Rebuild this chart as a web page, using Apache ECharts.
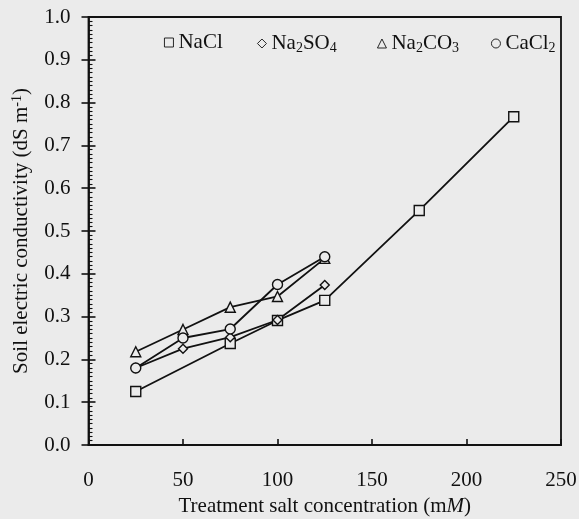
<!DOCTYPE html>
<html>
<head>
<meta charset="utf-8">
<script src="https://cdn.jsdelivr.net/npm/echarts@6/dist/echarts.min.js"></script>
<style>
html,body{margin:0;padding:0;background:#ebebeb;}
#c{width:579px;height:519px;}
</style>
</head>
<body>
<div id="c"></div>
<script>
// Data
const xTicks = [0, 50, 100, 150, 200, 250];
const yTicks = [0.0, 0.1, 0.2, 0.3, 0.4, 0.5, 0.6, 0.7, 0.8, 0.9, 1.0];

const naclX = [25, 75, 100, 125, 175, 225];
const naclY = [0.125, 0.237, 0.291, 0.338, 0.548, 0.767];

const na2so4X = [25, 50, 75, 100, 125];
const na2so4Y = [0.18, 0.225, 0.252, 0.292, 0.374];

const na2co3X = [25, 50, 75, 100, 125];
const na2co3Y = [0.218, 0.27, 0.322, 0.347, 0.436];

const cacl2X = [25, 50, 75, 100, 125];
const cacl2Y = [0.18, 0.25, 0.271, 0.375, 0.44];

const seriesNames = ['NaCl', 'Na2SO4', 'Na2CO3', 'CaCl2'];
const legendLabels = {
  'NaCl': '{n|NaCl}',
  'Na2SO4': '{n|Na}{s|2}{n|SO}{s|4}',
  'Na2CO3': '{n|Na}{s|2}{n|CO}{s|3}',
  'CaCl2': '{n|CaCl}{s|2}'
};

function pairs(xs, ys) { return xs.map((x, i) => [x, ys[i]]); }

const FONT = "'Liberation Serif', 'Times New Roman', serif";
const INK = '#111111';
const BG = '#ebebeb';
const FS = 21;

const richText = {
  n: { fontSize: FS, fontFamily: FONT, color: INK },
  s: { fontSize: 14, fontFamily: FONT, color: INK, lineHeight: 14, padding: [9, 0, 0, 0] },
  sup: { fontSize: 14, fontFamily: FONT, color: INK, lineHeight: 14, padding: [0, 0, 9, 0] },
  i: { fontSize: FS, fontFamily: FONT, color: INK, fontStyle: 'italic' }
};

function mkSeries(name, xs, ys, symbol, size) {
  return {
    name: name,
    type: 'line',
    data: pairs(xs, ys),
    symbol: symbol,
    symbolSize: size,
    showAllSymbol: true,
    lineStyle: { color: INK, width: 1.8 },
    itemStyle: { color: BG, borderColor: INK, borderWidth: 1.4 },
    emphasis: { disabled: true },
    animation: false
  };
}

function mkLegend(name, icon, left) {
  return {
    data: [{ name: name, icon: icon }],
    left: left,
    top: 27,
    itemWidth: 9,
    itemHeight: 9,
    selectedMode: false,
    itemStyle: { color: BG, borderColor: INK, borderWidth: 0.9 },
    formatter: n => legendLabels[n],
    textStyle: { rich: richText, fontFamily: FONT, fontSize: FS, color: INK }
  };
}

const chart = echarts.init(document.getElementById('c'), null, { renderer: 'canvas' });
chart.setOption({
  backgroundColor: BG,
  animation: false,
  grid: {
    left: 88.5, right: 18, top: 17, bottom: 74,
    containLabel: false,
    outerBoundsMode: 'none',
    show: true, borderColor: INK, borderWidth: 1.8, backgroundColor: 'transparent'
  },
  legend: [
    mkLegend('NaCl', 'rect', 159),
    mkLegend('Na2SO4', 'diamond', 252),
    mkLegend('Na2CO3', 'triangle', 372),
    mkLegend('CaCl2', 'circle', 486)
  ],
  xAxis: {
    type: 'value',
    min: xTicks[0], max: xTicks[xTicks.length - 1], interval: 50,
    name: '{n|Treatment salt concentration (m}{i|M}{n|)}',
    nameLocation: 'middle', nameGap: 44,
    nameTextStyle: { rich: richText, fontFamily: FONT, fontSize: FS, color: INK },
    axisLine: { lineStyle: { color: INK, width: 1.8 } },
    axisTick: { inside: true, length: 6, lineStyle: { color: INK, width: 1.6 } },
    axisLabel: { margin: 25, fontFamily: FONT, fontSize: FS, color: INK, showMinLabel: true, showMaxLabel: true },
    splitLine: { show: false }
  },
  yAxis: [
    {
      type: 'value',
      min: yTicks[0], max: yTicks[yTicks.length - 1], interval: 0.1,
      name: '{n|Soil electric conductivity (dS m}{sup|-1}{n|)}',
      nameLocation: 'middle', nameGap: 54, nameRotate: 90,
      nameTextStyle: { rich: richText, fontFamily: FONT, fontSize: FS, color: INK },
      axisLine: { show: true, lineStyle: { color: INK, width: 1.8 } },
      axisTick: { show: true, inside: false, length: 7, lineStyle: { color: INK, width: 1.6 } },
      axisLabel: { margin: 18, fontFamily: FONT, fontSize: FS, color: INK, formatter: v => v.toFixed(1) },
      splitLine: { show: false }
    },
    {
      type: 'value',
      position: 'left',
      min: yTicks[0], max: yTicks[yTicks.length - 1], interval: 0.1,
      axisLine: { show: false },
      axisTick: { show: true, inside: true, length: 7, lineStyle: { color: INK, width: 1.6 } },
      minorTick: { show: true, splitNumber: 10, length: 4, lineStyle: { color: INK, width: 1.1 } },
      axisLabel: { show: false },
      splitLine: { show: false }
    }
  ],
  series: [
    mkSeries('NaCl', naclX, naclY, 'rect', 10),
    mkSeries('Na2SO4', na2so4X, na2so4Y, 'diamond', 9),
    mkSeries('Na2CO3', na2co3X, na2co3Y, 'triangle', 10),
    mkSeries('CaCl2', cacl2X, cacl2Y, 'circle', 10)
  ]
});
</script>
</body>
</html>
